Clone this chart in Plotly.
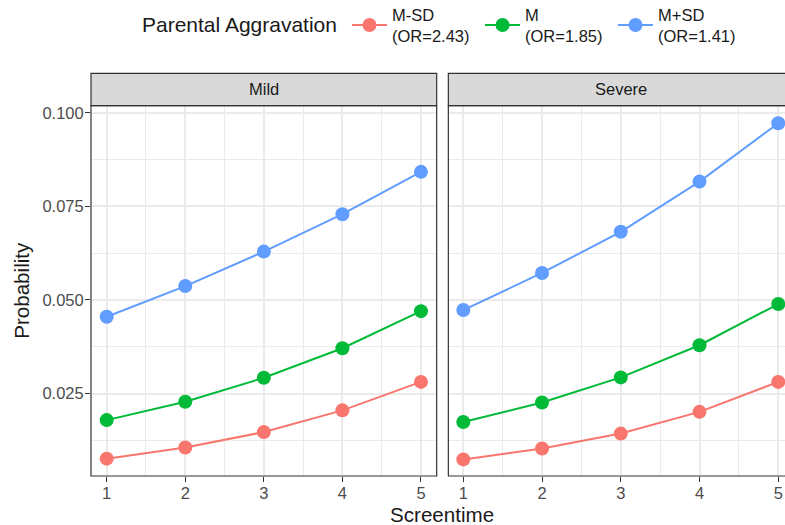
import plotly.graph_objects as go

screentime = [1, 2, 3, 4, 5]
groups = ["M-SD<br>(OR=2.43)", "M<br>(OR=1.85)", "M+SD<br>(OR=1.41)"]
colors = ["#F8766D", "#00BA38", "#619CFF"]

mild_msd = [0.0076, 0.0106, 0.0147, 0.0205, 0.0281]
mild_m = [0.0179, 0.0228, 0.0292, 0.0371, 0.0470]
mild_mpsd = [0.0455, 0.0537, 0.0629, 0.0729, 0.0842]

severe_msd = [0.0074, 0.0103, 0.0143, 0.0201, 0.0281]
severe_m = [0.0174, 0.0226, 0.0293, 0.0379, 0.0489]
severe_mpsd = [0.0473, 0.0572, 0.0682, 0.0816, 0.0972]

y_ticks = [0.025, 0.050, 0.075, 0.100]
facets = ["Mild", "Severe"]
legend_title = "Parental Aggravation"

FONT = "Liberation Sans, Arial, sans-serif"
fig = go.Figure()

for panel, series in enumerate([[mild_msd, mild_m, mild_mpsd], [severe_msd, severe_m, severe_mpsd]]):
    for g, vals, col in zip(groups, series, colors):
        fig.add_trace(go.Scatter(
            x=screentime, y=vals, mode="lines+markers", name=g,
            line=dict(color=col, width=2),
            marker=dict(color=col, size=14),
            showlegend=(panel == 0), legendgroup=g,
            xaxis="x" if panel == 0 else "x2", yaxis="y" if panel == 0 else "y2",
        ))

grid = "#EBEBEB"
axis_common = dict(
    tickvals=screentime, ticks="outside", ticklen=5, tickwidth=1.2, tickcolor="#333333",
    tickfont=dict(family=FONT, size=16.5, color="#4D4D4D"), ticklabelstandoff=-3,
    showgrid=True, gridcolor=grid, gridwidth=1.8, zeroline=False, showline=False,
    minor=dict(dtick=0.5, tick0=0, showgrid=True, gridcolor=grid, gridwidth=1.1, ticks=""),
)
ytop = 0.9189
fig.update_layout(
    width=785, height=525,
    margin=dict(l=91, r=0, t=73, b=49),
    paper_bgcolor="white", plot_bgcolor="white",
    font=dict(family=FONT, color="#1A1A1A"),
    xaxis=dict(domain=[0, 0.4981], range=[0.8, 5.2], anchor="y", **axis_common),
    xaxis2=dict(domain=[0.5149, 1], range=[0.81, 5.086], anchor="y2", **axis_common),
    yaxis=dict(domain=[0, ytop], range=[0.00297, 0.10188], tickvals=y_ticks, tickformat=".3f",
               ticks="outside", ticklen=5, tickwidth=1.2, tickcolor="#333333",
               tickfont=dict(family=FONT, size=16.5, color="#4D4D4D"), ticklabelstandoff=-2,
               showgrid=True, gridcolor=grid, gridwidth=1.8, zeroline=False, showline=False,
               minor=dict(dtick=0.0125, tick0=0, showgrid=True, gridcolor=grid, gridwidth=1.1, ticks=""),
               anchor="x"),
    yaxis2=dict(domain=[0, ytop], matches="y", range=[0.00297, 0.10188], tickvals=y_ticks,
                showticklabels=False, ticks="",
                showgrid=True, gridcolor=grid, gridwidth=1.8, zeroline=False, showline=False,
                minor=dict(dtick=0.0125, tick0=0, showgrid=True, gridcolor=grid, gridwidth=1.1, ticks=""),
                anchor="x2"),
    legend=dict(
        orientation="h", xref="container", yref="container",
        x=347 / 785, xanchor="left", y=1 - 25 / 525, yanchor="middle",
        font=dict(family=FONT, size=16.5, color="#1A1A1A"),
        itemwidth=35, entrywidth=83, bgcolor="rgba(0,0,0,0)",
    ),
)

strip_h = 32.4 / (ytop * 403)
shapes = []
annotations = []
for xr, yr, x1, label, lx in [("x domain", "y domain", 1, facets[0], 0.5),
                              ("x2 domain", "y2 domain", 1.05, facets[1], 0.513)]:
    shapes.append(dict(type="rect", xref=xr, yref=yr, x0=0, x1=x1, y0=1, y1=1 + strip_h,
                       fillcolor="#D9D9D9", line=dict(color="#333333", width=1.2), layer="above"))
    shapes.append(dict(type="rect", xref=xr, yref=yr, x0=0, x1=x1, y0=0, y1=1,
                       fillcolor="rgba(0,0,0,0)", line=dict(color="#333333", width=1.2), layer="above"))
    annotations.append(dict(text=label, xref=xr, yref=yr, x=lx, y=1 + strip_h / 2,
                            showarrow=False, xanchor="center", yanchor="middle",
                            font=dict(family=FONT, size=16.5, color="#1A1A1A")))

annotations.append(dict(text=legend_title, xref="paper", yref="paper", x=(140 - 91) / 694,
                        y=1 + (73 - 25) / 403, showarrow=False, xanchor="left", yanchor="middle",
                        font=dict(family=FONT, size=21, color="#1A1A1A")))
annotations.append(dict(text="Probability", xref="paper", yref="paper", x=(22 - 91) / 694, y=ytop / 2,
                        textangle=-90, showarrow=False, xanchor="center", yanchor="middle",
                        font=dict(family=FONT, size=20.6, color="#1A1A1A")))
annotations.append(dict(text="Screentime", xref="paper", yref="paper", x=(442 - 91) / 694, y=(476 - 514) / 403,
                        showarrow=False, xanchor="center", yanchor="middle",
                        font=dict(family=FONT, size=20.6, color="#1A1A1A")))
fig.update_layout(shapes=shapes, annotations=annotations)

fig.write_html("out.html")
